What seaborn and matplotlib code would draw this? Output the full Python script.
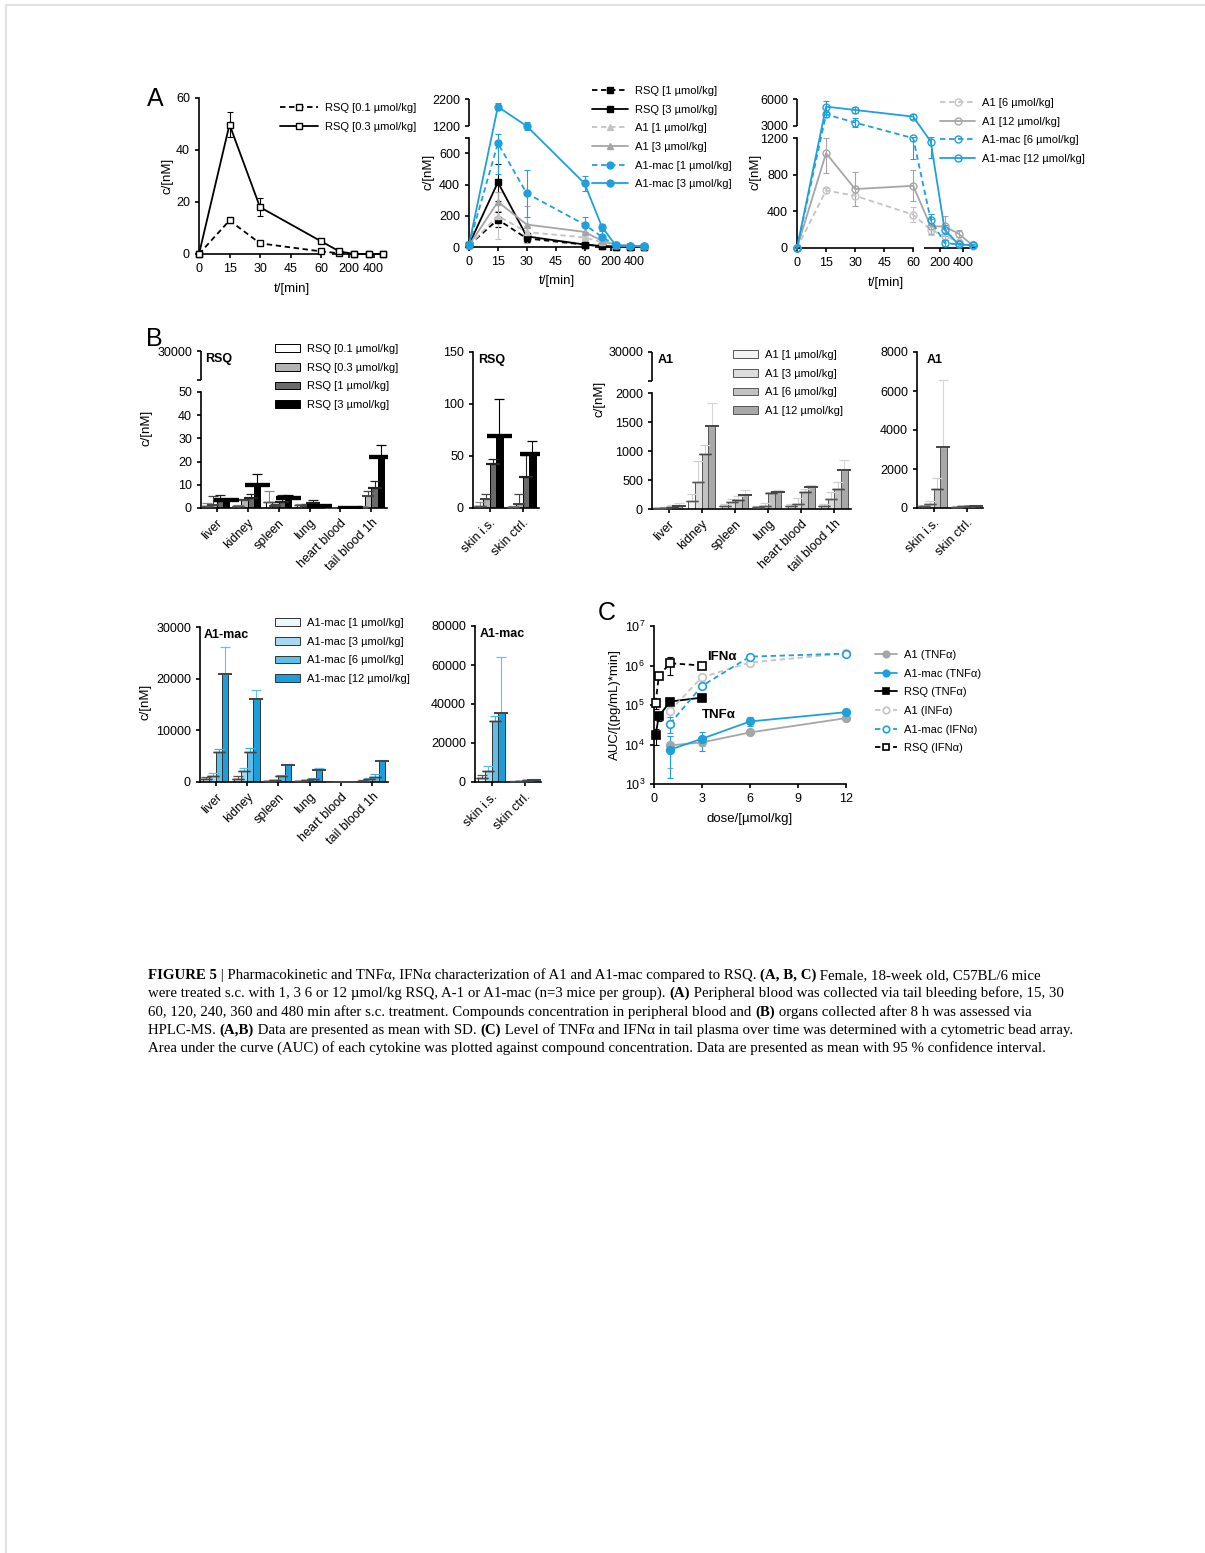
import numpy as np
import pandas as pd
import matplotlib
matplotlib.use("Agg")
import matplotlib.pyplot as plt
import seaborn as sns
from matplotlib.patches import Patch
from matplotlib.lines import Line2D
from matplotlib.ticker import NullLocator

W, H = 1205, 1553
BLUE = "#1ea0dc"
LGRAY = "#c4c4c4"
MGRAY = "#a6a6a6"

# ---------------- panel A: blood concentration over time (mean, SD)
t_min = [0, 15, 30, 60, 120, 240, 360, 480]

rsq_01 = [0, 12.9, 4.1, 1.0, 0.3, 0, 0, 0]
rsq_01_sd = [0, 1.0, 0.8, 0.3, 0.2, 0, 0, 0]
rsq_03 = [0, 49.8, 18.0, 4.9, 1.0, 0, 0, 0]
rsq_03_sd = [0, 4.8, 3.5, 0.6, 0.3, 0, 0, 0]

rsq_1 = [12, 176, 55, 15, 5, 2, 1, 1]
rsq_1_sd = [5, 50, 20, 5, 3, 2, 1, 1]
rsq_3 = [15, 415, 68, 16, 6, 2, 1, 1]
rsq_3_sd = [5, 120, 25, 6, 3, 2, 1, 1]
a1_1 = [10, 200, 95, 62, 30, 15, 10, 5]
a1_1_sd = [5, 150, 40, 30, 15, 10, 5, 5]
a1_3 = [10, 290, 144, 97, 40, 15, 10, 5]
a1_3_sd = [5, 60, 120, 40, 30, 15, 10, 5]
mac_1 = [15, 666, 344, 144, 65, 10, 5, 5]
mac_1_sd = [5, 200, 150, 50, 40, 10, 5, 5]
mac_3 = [15, 1916, 1200, 408, 129, 10, 5, 5]
mac_3_sd = [5, 130, 150, 50, 20, 10, 5, 5]

a1_6 = [0, 629, 571, 364, 200, 130, 70, 20]
a1_6_sd = [0, 30, 110, 80, 60, 40, 20, 10]
a1_12 = [0, 1036, 644, 680, 236, 236, 156, 30]
a1_12_sd = [0, 220, 190, 170, 80, 110, 40, 10]
mac_6 = [0, 4296, 3370, 1200, 309, 55, 40, 30]
mac_6_sd = [0, 300, 500, 230, 60, 30, 20, 10]
mac_12 = [0, 5148, 4778, 4037, 1164, 200, 40, 30]
mac_12_sd = [0, 600, 300, 250, 180, 50, 20, 10]

# ---------------- panel B: organ concentrations after 8 h (rows = doses)
organs = ["liver", "kidney", "spleen", "lung", "heart blood", "tail blood 1h"]
skins = ["skin i.s.", "skin ctrl."]

rsq_doses = ["RSQ [0.1 µmol/kg]", "RSQ [0.3 µmol/kg]", "RSQ [1 µmol/kg]", "RSQ [3 µmol/kg]"]
rsq_org_mean = [[1.0, 0.8, 2.7, 1.5, 0.05, 0.6],
                [1.5, 3.5, 1.0, 1.0, 0.05, 5.0],
                [3.0, 4.5, 2.5, 2.0, 0.05, 8.5],
                [3.5, 10.0, 4.2, 0.7, 0.05, 21.8]]
rsq_org_sd = [[1.0, 0.3, 4.8, 0.4, 0, 0.2],
              [3.5, 0.5, 0.8, 0.6, 0, 2.5],
              [2.8, 1.5, 3.3, 1.3, 0, 3.0],
              [0.5, 4.5, 1.2, 0.3, 0, 5.3]]
rsq_skin_mean = [[2, 1], [9, 4], [42, 30], [69, 52]]
rsq_skin_sd = [[4, 0.5], [4, 9], [5, 21], [36, 12]]

a1_doses = ["A1 [1 µmol/kg]", "A1 [3 µmol/kg]", "A1 [6 µmol/kg]", "A1 [12 µmol/kg]"]
a1_org_mean = [[10, 140, 60, 30, 50, 60],
               [20, 460, 120, 60, 90, 180],
               [40, 950, 160, 280, 300, 350],
               [60, 1430, 240, 300, 380, 670]]
a1_org_sd = [[10, 120, 30, 20, 30, 30],
             [20, 370, 50, 50, 100, 120],
             [30, 150, 60, 20, 50, 110],
             [40, 400, 90, 30, 40, 180]]
a1_skin_mean = [[100, 60], [200, 80], [950, 100], [3150, 110]]
a1_skin_sd = [[70, 20], [150, 20], [600, 20], [3400, 20]]

mac_doses = ["A1-mac [1 µmol/kg]", "A1-mac [3 µmol/kg]", "A1-mac [6 µmol/kg]", "A1-mac [12 µmol/kg]"]
mac_org_mean = [[500, 600, 100, 100, 30, 200],
                [1100, 2200, 300, 300, 40, 500],
                [5900, 5800, 1100, 600, 50, 1000],
                [21000, 16000, 3200, 2400, 60, 4000]]
mac_org_sd = [[500, 500, 50, 50, 10, 100],
              [600, 600, 100, 100, 10, 300],
              [500, 700, 300, 200, 10, 500],
              [5200, 1900, 300, 300, 10, 300]]
mac_skin_mean = [[2000, 200], [5500, 300], [31500, 900], [35300, 1200]]
mac_skin_sd = [[1700, 100], [2900, 100], [2600, 300], [28700, 500]]

# ---------------- panel C: cytokine AUC vs dose (mean, 95% CI)
dose_hi = [1, 3, 6, 12]
dose_rsq = [0.1, 0.3, 1, 3]
a1_tnf = [9500, 11300, 20200, 46500]
a1_tnf_lo = [2600, 9000, 17000, 40000]
a1_tnf_hi = [16000, 14000, 25000, 52000]
mac_tnf = [7400, 14000, 38300, 65900]
mac_tnf_lo = [1400, 7000, 30000, 60000]
mac_tnf_hi = [16000, 21000, 50000, 72000]
rsq_tnf = [17600, 51300, 122000, 154000]
rsq_tnf_lo = [9500, 40000, 100000, 140000]
rsq_tnf_hi = [25000, 60000, 140000, 170000]
a1_ifn = [71000, 505000, 1190000, 2040000]
a1_ifn_lo = [50000, 400000, 1000000, 1900000]
a1_ifn_hi = [90000, 600000, 1300000, 2200000]
mac_ifn = [33500, 305000, 1680000, 2000000]
mac_ifn_lo = [20000, 250000, 1400000, 1800000]
mac_ifn_hi = [50000, 360000, 1900000, 2200000]
rsq_ifn = [111000, 546000, 1140000, 1000000]
rsq_ifn_lo = [80000, 450000, 580000, 900000]
rsq_ifn_hi = [140000, 650000, 1600000, 1100000]

caption = [
    [("FIGURE 5", True), (" | Pharmacokinetic and TNFα, IFNα characterization of A1 and A1-mac compared to RSQ. ", False),
     ("(A, B, C)", True), (" Female, 18-week old, C57BL/6 mice", False)],
    [("were treated s.c. with 1, 3 6 or 12 µmol/kg RSQ, A-1 or A1-mac (n=3 mice per group). ", False), ("(A)", True),
     (" Peripheral blood was collected via tail bleeding before, 15, 30", False)],
    [("60, 120, 240, 360 and 480 min after s.c. treatment. Compounds concentration in peripheral blood and ", False),
     ("(B)", True), (" organs collected after 8 h was assessed via", False)],
    [("HPLC-MS. ", False), ("(A,B)", True), (" Data are presented as mean with SD. ", False), ("(C)", True),
     (" Level of TNFα and IFNα in tail plasma over time was determined with a cytometric bead array.", False)],
    [("Area under the curve (AUC) of each cytokine was plotted against compound concentration. "
      "Data are presented as mean with 95 % confidence interval.", False)],
]

sns.set_style("ticks")
plt.rcParams["font.family"] = ["Liberation Sans", "DejaVu Sans"]
plt.rcParams.update({
    "axes.edgecolor": "black", "axes.linewidth": 1.2, "text.color": "black",
    "axes.labelcolor": "black", "xtick.color": "black", "ytick.color": "black",
    "xtick.major.width": 1.2, "ytick.major.width": 1.2,
    "xtick.major.size": 3, "ytick.major.size": 3,
    "xtick.labelsize": 9, "ytick.labelsize": 9, "axes.labelsize": 9.5,
    "legend.fontsize": 8,
})

fig = plt.figure(figsize=(W / 100, H / 100), dpi=100)


def px_axes(l, t, r, b):
    return fig.add_axes([l / W, 1 - b / H, (r - l) / W, (b - t) / H])


def broken(b, c, k1, gap, k2):
    fb = b * k1
    fc = fb + gap

    def fwd(v):
        v = np.asarray(v, dtype=float)
        return np.where(v <= b, v * k1,
                        np.where(v <= c, fb + (v - b) / (c - b) * gap, fc + (v - c) * k2))

    def inv(f):
        f = np.asarray(f, dtype=float)
        return np.where(f <= fb, f / k1,
                        np.where(f <= fc, b + (f - fb) / gap * (c - b), c + (f - fc) / k2))
    return fwd, inv


def place_labels(ax, xl, yl):
    inv = ax.transAxes.inverted()
    if xl is not None:
        ax.set_xlabel(xl[0], va="center")
        ax.xaxis.set_label_coords(*inv.transform((xl[1], H - xl[2])))
    ax.set_ylabel(yl[0], va="center")
    ax.yaxis.set_label_coords(*inv.transform((yl[1], H - yl[2])))


def y_break(ax, b, c, top):
    ax.spines["left"].set_bounds(0, b)
    ax.plot([0, 0], [c, top], transform=ax.get_yaxis_transform(), color="black",
            lw=1.2, clip_on=False, solid_capstyle="butt")


def legend_at(ax, x, y, hl, handles=None, labels=None, **kw):
    if handles is None:
        handles, labels = ax.get_legend_handles_labels()
    ax.legend(handles, labels, loc="upper left", bbox_to_anchor=(x / W, 1 - y / H),
              bbox_transform=fig.transFigure, frameon=False, handlelength=hl,
              handletextpad=0.65, labelspacing=0.78, borderpad=0, borderaxespad=0, **kw)


def pk_panel(ax, series, yscale, ylim, yticks, brk):
    for lab, y, sd, col, ls, mk, mfc in series:
        sns.lineplot(x=t_min, y=y, ax=ax, color=col, linestyle=ls, marker=mk, markersize=5,
                     markerfacecolor=mfc, markeredgecolor=col, markeredgewidth=1, linewidth=1.3,
                     label=lab, errorbar=None, clip_on=False, zorder=3)
        ax.errorbar(t_min, y, yerr=sd, fmt="none", ecolor=col, elinewidth=0.8, capsize=2.5,
                    capthick=0.8, zorder=2, clip_on=False)
    ax.set_xscale("function", functions=broken(60, 61, 1.0, 5.5, 0.06))
    if yscale is not None:
        ax.set_yscale("function", functions=yscale)
    ax.spines["bottom"].set_bounds(0, 60)
    ax.plot([61, 510], [0, 0], transform=ax.get_xaxis_transform(), color="black",
            lw=1.2, clip_on=False, solid_capstyle="butt")
    if brk is not None:
        y_break(ax, brk[0], brk[1], ylim[1])
    ax.set_xlim(0, 510)
    ax.set_ylim(*ylim)
    ax.set_xticks([0, 15, 30, 45, 60, 200, 400])
    ax.set_xticklabels(["0", "15", "30", "45", "60", "200", "400"])
    ax.set_yticks([v for v, _ in yticks])
    ax.set_yticklabels([s for _, s in yticks])
    sns.despine(ax=ax)


# ---------------- panel A
axA1 = px_axes(199, 98, 387, 254)
pk_panel(axA1, [("RSQ [0.1 µmol/kg]", rsq_01, rsq_01_sd, "black", (0, (3, 2)), "s", "white"),
                ("RSQ [0.3 µmol/kg]", rsq_03, rsq_03_sd, "black", "-", "s", "white")],
         None, (0, 60), [(0, "0"), (20, "20"), (40, "40"), (60, "60")], None)
legend_at(axA1, 280, 103, 3.4)
place_labels(axA1, ("t/[min]", 292, 289), ("c/[nM]", 167, 176))

axA2 = px_axes(469, 99, 647, 247)
pk_panel(axA2, [("RSQ [1 µmol/kg]", rsq_1, rsq_1_sd, "black", (0, (3, 2)), "s", "black"),
                ("RSQ [3 µmol/kg]", rsq_3, rsq_3_sd, "black", "-", "s", "black"),
                ("A1 [1 µmol/kg]", a1_1, a1_1_sd, LGRAY, (0, (3, 2)), "^", LGRAY),
                ("A1 [3 µmol/kg]", a1_3, a1_3_sd, MGRAY, "-", "^", MGRAY),
                ("A1-mac [1 µmol/kg]", mac_1, mac_1_sd, BLUE, (0, (3, 2)), "o", BLUE),
                ("A1-mac [3 µmol/kg]", mac_3, mac_3_sd, BLUE, "-", "o", BLUE)],
         broken(700, 1200, 0.155, 11.7, 0.027), (0, 2200),
         [(0, "0"), (200, "200"), (400, "400"), (600, "600"), (700, ""), (1200, "1200"), (2200, "2200")],
         (700, 1200))
legend_at(axA2, 592, 86, 3.25)
place_labels(axA2, ("t/[min]", 557, 281), ("c/[nM]", 428, 172))

axA3 = px_axes(797, 99, 976, 248)
pk_panel(axA3, [("A1 [6 µmol/kg]", a1_6, a1_6_sd, LGRAY, (0, (3, 2)), "o", "none"),
                ("A1 [12 µmol/kg]", a1_12, a1_12_sd, MGRAY, "-", "o", "none"),
                ("A1-mac [6 µmol/kg]", mac_6, mac_6_sd, BLUE, (0, (3, 2)), "o", "none"),
                ("A1-mac [12 µmol/kg]", mac_12, mac_12_sd, BLUE, "-", "o", "none")],
         broken(1200, 3000, 0.0917, 12.3, 0.009), (0, 6000),
         [(0, "0"), (400, "400"), (800, "800"), (1200, "1200"), (3000, "3000"), (6000, "6000")],
         (1200, 3000))
legend_at(axA3, 940, 98, 3.15)
place_labels(axA3, ("t/[min]", 886, 283), ("c/[nM]", 755, 172))


# ---------------- panel B
def organ_bars(ax, cats, labels, means, sds, pal, edge, top_cols, mean_cols, mean_lw, mean_cs):
    rows = []
    for lab, m in zip(labels, means):
        for c, v in zip(cats, m):
            rows.append((c, lab, v))
    df = pd.DataFrame(rows, columns=["organ", "dose", "c"])
    sns.barplot(data=df, x="organ", y="c", hue="dose", order=cats, hue_order=labels,
                palette=pal, saturation=1, edgecolor=edge, linewidth=0.7, errorbar=None,
                legend=False, ax=ax, zorder=2)
    conts = list(ax.containers)
    for i, cont in enumerate(conts):
        xs = [p.get_x() + p.get_width() / 2 for p in cont.patches]
        hs = [p.get_height() for p in cont.patches]
        ax.errorbar(xs, hs, yerr=[np.zeros(len(hs)), sds[i]], fmt="none", ecolor=top_cols[i],
                    elinewidth=0.8, capsize=3.5, capthick=0.9, zorder=3)
        ax.errorbar(xs, hs, yerr=np.zeros(len(hs)), fmt="none", ecolor=mean_cols[i],
                    elinewidth=0, capsize=mean_cs[i], capthick=mean_lw[i], zorder=4)
    ax.set_xlabel("")
    ax.set_xlim(-0.5, len(cats) - 0.5)
    plt.setp(ax.get_xticklabels(), rotation=45, ha="right", rotation_mode="anchor")
    sns.despine(ax=ax)


def bar_legend(ax, x, y, labels, pal, edge):
    handles = [Patch(facecolor=p, edgecolor=edge, linewidth=0.7) for p in pal]
    legend_at(ax, x, y, 2.25, handles, labels)


rsq_pal = ["white", "#b3b3b3", "#6a6a6a", "black"]
rsq_top = ["#8a8a8a", "#444444", "#222222", "black"]
rsq_mean = ["#555555", "#444444", "#222222", "black"]
a1_pal = ["#f3f3f3", "#dddddd", "#c2c2c2", "#a8a8a8"]
a1_top = ["#d0d0d0", "#d0d0d0", "#cfcfcf", "#d5d5d5"]
a1_mean = ["#555555", "#555555", "#444444", "#444444"]
mac_pal = ["#eef7fb", "#a6d9f0", "#5cbfe9", "#1a9fdc"]
mac_top = ["#555555", "#5cbfe9", "#3fb0e6", "#5cc4ee"]
mac_mean = ["#444444", "#444444", "#444444", "#444444"]

axB1 = px_axes(201, 351, 387, 508)
organ_bars(axB1, organs, rsq_doses, rsq_org_mean, rsq_org_sd, rsq_pal, "black", rsq_top, rsq_mean,
           [1.0, 1.2, 1.5, 3.0], [4, 4, 5, 9])
axB1.set_yscale("function", functions=broken(50, 20000, 2.32, 11.7, 0.0029))
axB1.set_ylim(0, 30000)
axB1.set_yticks([0, 10, 20, 30, 40, 50, 20000, 30000])
axB1.set_yticklabels(["0", "10", "20", "30", "40", "50", "", "30000"])
y_break(axB1, 50, 20000, 30000)
axB1.text(0.02, 0.99, "RSQ", transform=axB1.transAxes, fontsize=9, fontweight="bold", va="top")
bar_legend(axB1, 275, 344, rsq_doses, rsq_pal, "black")
place_labels(axB1, None, ("c/[nM]", 146, 428))

axB2 = px_axes(473, 352, 539, 508)
organ_bars(axB2, skins, rsq_doses, rsq_skin_mean, rsq_skin_sd, rsq_pal, "black", rsq_top, rsq_mean,
           [1.0, 1.2, 1.5, 3.0], [4, 4, 5, 9])
axB2.set_ylim(0, 150)
axB2.set_yticks([0, 50, 100, 150])
axB2.set_ylabel("")
axB2.text(0.08, 0.99, "RSQ", transform=axB2.transAxes, fontsize=9, fontweight="bold", va="top")

axB3 = px_axes(652, 352, 851, 509)
organ_bars(axB3, organs, a1_doses, a1_org_mean, a1_org_sd, a1_pal, "#555555", a1_top, a1_mean,
           [1.0, 1.0, 1.0, 1.2], [4, 4, 4, 5])
axB3.set_yscale("function", functions=broken(2000, 20000, 0.058, 12.6, 0.0029))
axB3.set_ylim(0, 30000)
axB3.set_yticks([0, 500, 1000, 1500, 2000, 20000, 30000])
axB3.set_yticklabels(["0", "500", "1000", "1500", "2000", "", "30000"])
y_break(axB3, 2000, 20000, 30000)
axB3.text(0.03, 0.99, "A1", transform=axB3.transAxes, fontsize=9, fontweight="bold", va="top")
bar_legend(axB3, 733, 350, a1_doses, a1_pal, "#555555")
place_labels(axB3, None, ("c/[nM]", 600, 399))

axB4 = px_axes(917, 352, 983, 508)
organ_bars(axB4, skins, a1_doses, a1_skin_mean, a1_skin_sd, a1_pal, "#555555", a1_top, a1_mean,
           [1.0, 1.0, 1.0, 1.2], [4, 4, 4, 5])
axB4.set_ylim(0, 8000)
axB4.set_yticks([0, 2000, 4000, 6000, 8000])
axB4.set_ylabel("")
axB4.text(0.15, 0.99, "A1", transform=axB4.transAxes, fontsize=9, fontweight="bold", va="top")

axB5 = px_axes(200, 627, 388, 782)
organ_bars(axB5, organs, mac_doses, mac_org_mean, mac_org_sd, mac_pal, "#333333", mac_top, mac_mean,
           [1.0, 1.0, 1.0, 1.2], [4, 4, 4, 5])
axB5.set_ylim(0, 30000)
axB5.set_yticks([0, 10000, 20000, 30000])
axB5.text(0.02, 0.99, "A1-mac", transform=axB5.transAxes, fontsize=9, fontweight="bold", va="top")
bar_legend(axB5, 275, 618, mac_doses, mac_pal, "#333333")
place_labels(axB5, None, ("c/[nM]", 146, 702))

axB6 = px_axes(475, 626, 541, 782)
organ_bars(axB6, skins, mac_doses, mac_skin_mean, mac_skin_sd, mac_pal, "#333333", mac_top, mac_mean,
           [1.0, 1.0, 1.0, 1.2], [4, 4, 4, 5])
axB6.set_ylim(0, 80000)
axB6.set_yticks([0, 20000, 40000, 60000, 80000])
axB6.set_ylabel("")
axB6.text(0.07, 0.99, "A1-mac", transform=axB6.transAxes, fontsize=9, fontweight="bold", va="top")

# ---------------- panel C
axC = px_axes(654, 626, 846, 784)
c_series = [
    ("A1 (TNFα)", dose_hi, a1_tnf, a1_tnf_lo, a1_tnf_hi, MGRAY, "-", "o", MGRAY),
    ("A1-mac (TNFα)", dose_hi, mac_tnf, mac_tnf_lo, mac_tnf_hi, BLUE, "-", "o", BLUE),
    ("RSQ (TNFα)", dose_rsq, rsq_tnf, rsq_tnf_lo, rsq_tnf_hi, "black", "-", "s", "black"),
    ("A1 (INFα)", dose_hi, a1_ifn, a1_ifn_lo, a1_ifn_hi, LGRAY, (0, (3, 2)), "o", "white"),
    ("A1-mac (IFNα)", dose_hi, mac_ifn, mac_ifn_lo, mac_ifn_hi, BLUE, (0, (3, 2)), "o", "white"),
    ("RSQ (IFNα)", dose_rsq, rsq_ifn, rsq_ifn_lo, rsq_ifn_hi, "black", (0, (3, 2)), "s", "white"),
]
for lab, xd, y, lo, hi, col, ls, mk, mfc in c_series:
    sns.lineplot(x=xd, y=y, ax=axC, color=col, linestyle=ls, marker=mk, markersize=5.5,
                 markerfacecolor=mfc, markeredgecolor=col, markeredgewidth=1.2, linewidth=1.3,
                 label=lab, errorbar=None, clip_on=False, zorder=3)
    axC.errorbar(xd, y, yerr=[np.subtract(y, lo), np.subtract(hi, y)], fmt="none", ecolor=col,
                 elinewidth=0.8, capsize=2.5, capthick=0.8, zorder=2)
axC.set_yscale("log")
axC.set_ylim(1e3, 1e7)
axC.set_xlim(0, 12)
axC.set_xticks([0, 3, 6, 9, 12])
axC.set_yticks([1e3, 1e4, 1e5, 1e6, 1e7])
axC.yaxis.set_minor_locator(NullLocator())
sns.despine(ax=axC)
axC.text(3.3, 1.6e6, "IFNα", fontsize=9.5, fontweight="bold", va="center")
axC.text(3.0, 5.6e4, "TNFα", fontsize=9.5, fontweight="bold", va="center")
legend_at(axC, 875, 650, 2.0, markerscale=0.85)
place_labels(axC, ("dose/[µmol/kg]", 750, 819), ("AUC/[(pg/mL)*min]", 615, 705))

# ---------------- panel letters
fig.text(147 / W, 1 - 106 / H, "A", fontsize=18)
fig.text(146 / W, 1 - 346 / H, "B", fontsize=18)
fig.text(598 / W, 1 - 620 / H, "C", fontsize=18)

# ---------------- caption
renderer = fig.canvas.get_renderer()
for li, runs in enumerate(caption):
    x = 148.0
    y = 979 + li * 18.3
    for txt, bold in runs:
        t = fig.text(x / W, 1 - y / H, txt, fontsize=10.7, family="Liberation Serif",
                     weight="bold" if bold else "normal", va="baseline")
        prop = t.get_fontproperties()
        w1 = renderer.get_text_width_height_descent(txt + "x", prop, ismath=False)[0]
        w2 = renderer.get_text_width_height_descent("x", prop, ismath=False)[0]
        x += w1 - w2

# page border
fig.add_artist(Line2D([6 / W, 6 / W], [0, 1 - 5 / H], color="#e3e3e3", lw=1.5, transform=fig.transFigure))
fig.add_artist(Line2D([6 / W, 1], [1 - 5 / H, 1 - 5 / H], color="#e3e3e3", lw=1.5, transform=fig.transFigure))

fig.savefig("out.png", dpi=100)
plt.close(fig)
